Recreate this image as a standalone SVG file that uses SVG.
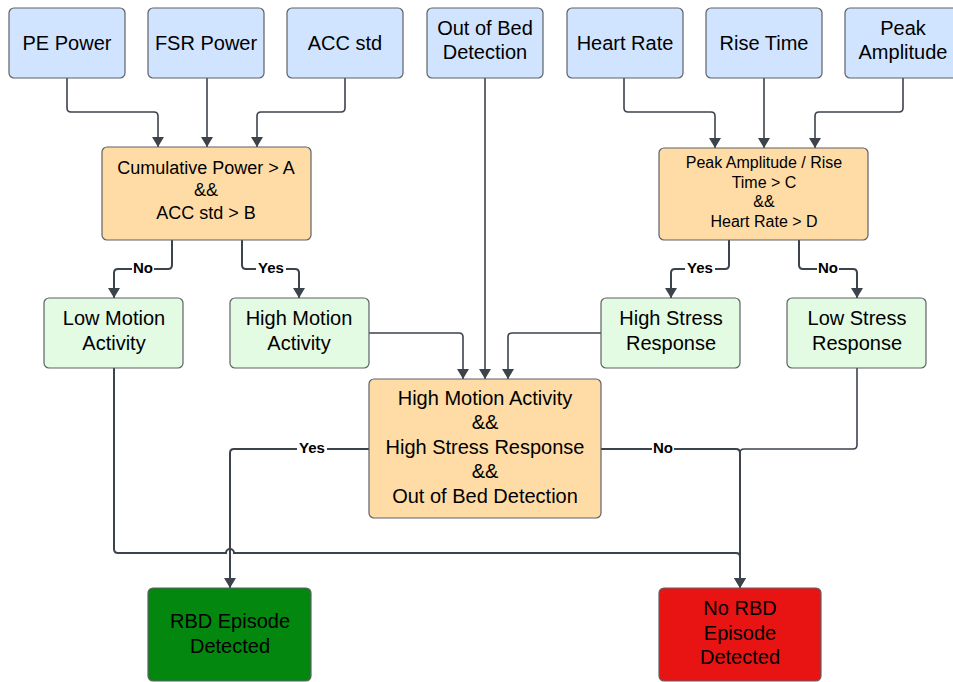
<svg xmlns="http://www.w3.org/2000/svg" width="953" height="682" viewBox="0 0 953 682">
<style>
.box{stroke:#5e6166;stroke-width:1.2}
.in{fill:#d0e4ff}
.dec{fill:#ffdca6}
.res{fill:#e3fae3}
text{font-family:"Liberation Sans",Arial,sans-serif;fill:#000;text-anchor:middle}
.t20{font-size:20px}
.t18{font-size:18px}
.t16{font-size:16px}
.c{fill:none;stroke:#3d434b;stroke-width:1.6}
.c2{fill:none;stroke:#3d434b;stroke-width:2}
.lbl{font-size:15px;font-weight:bold}
.lb{fill:#fff}
</style>
<defs>
<marker id="ah" viewBox="0 0 10 12" refX="10" refY="6" markerWidth="10" markerHeight="12" orient="auto" markerUnits="userSpaceOnUse">
<path d="M0,0 L10,6 L0,12 z" fill="#3d434b"/>
</marker>
</defs>
<rect width="953" height="682" fill="#fff"/>
<g id="connectors">
<path class="c" d="M67,78 V108 Q67,112 71,112 H154 Q158,112 158,116 V147" marker-end="url(#ah)"/>
<path class="c" d="M207,78 V147" marker-end="url(#ah)"/>
<path class="c" d="M345,78 V108 Q345,112 341,112 H261 Q257,112 257,116 V147" marker-end="url(#ah)"/>
<path class="c" d="M485,78 V379" marker-end="url(#ah)"/>
<path class="c" d="M624,78 V108 Q624,112 628,112 H711 Q715,112 715,116 V148" marker-end="url(#ah)"/>
<path class="c" d="M764,78 V148" marker-end="url(#ah)"/>
<path class="c" d="M903,78 V108 Q903,112 899,112 H819 Q815,112 815,116 V148" marker-end="url(#ah)"/>
<path class="c2" d="M172,240 V265 Q172,269 168,269 H118 Q114,269 114,273 V298" marker-end="url(#ah)"/>
<path class="c2" d="M242,240 V265 Q242,269 246,269 H295 Q299,269 299,273 V298" marker-end="url(#ah)"/>
<path class="c2" d="M729,240 V265 Q729,269 725,269 H675 Q671,269 671,273 V298" marker-end="url(#ah)"/>
<path class="c2" d="M799,240 V265 Q799,269 803,269 H853 Q857,269 857,273 V298" marker-end="url(#ah)"/>
<path class="c" d="M369,333 H459 Q463,333 463,337 V379" marker-end="url(#ah)"/>
<path class="c" d="M601,333 H512 Q508,333 508,337 V379" marker-end="url(#ah)"/>
<path class="c2" d="M369,449 H234 Q230,449 230,453 V588" marker-end="url(#ah)"/>
<path class="c2" d="M601,449 H736 Q740,449 740,453 V588" marker-end="url(#ah)"/>
<path class="c" d="M857,368 V445 Q857,449 853,449 H744 Q740,449 740,453"/>
<path class="c2" d="M114,368 V549 Q114,553 118,553 H226 A4,4 0 0 1 234,553 H736 Q740,553 740,557 V588" marker-end="url(#ah)"/>
<rect class="lb" x="132" y="260" width="22" height="16"/>
<text class="lbl" x="143" y="273">No</text>
<rect class="lb" x="256" y="260" width="30" height="16"/>
<text class="lbl" x="271" y="273">Yes</text>
<rect class="lb" x="685" y="260" width="30" height="16"/>
<text class="lbl" x="700" y="273">Yes</text>
<rect class="lb" x="817" y="260" width="22" height="16"/>
<text class="lbl" x="828" y="273">No</text>
<rect class="lb" x="297" y="440" width="30" height="16"/>
<text class="lbl" x="312" y="453">Yes</text>
<rect class="lb" x="652" y="440" width="22" height="16"/>
<text class="lbl" x="663" y="453">No</text>
</g>
<g id="pe-power"><rect class="box in" x="9" y="8" width="116" height="70" rx="5"/><text class="t20" x="67" y="50">PE Power</text></g>
<g id="fsr-power"><rect class="box in" x="148" y="8" width="116" height="70" rx="5"/><text class="t20" x="206" y="50">FSR Power</text></g>
<g id="acc-std"><rect class="box in" x="287" y="8" width="116" height="70" rx="5"/><text class="t20" x="345" y="50">ACC std</text></g>
<g id="out-of-bed"><rect class="box in" x="427" y="8" width="116" height="70" rx="5"/><text class="t20" x="485" y="35">Out of Bed</text><text class="t20" x="485" y="59">Detection</text></g>
<g id="heart-rate"><rect class="box in" x="567" y="8" width="116" height="70" rx="5"/><text class="t20" x="625" y="50">Heart Rate</text></g>
<g id="rise-time"><rect class="box in" x="706" y="8" width="116" height="70" rx="5"/><text class="t20" x="764" y="50">Rise Time</text></g>
<g id="peak-amplitude"><rect class="box in" x="845" y="8" width="116" height="70" rx="5"/><text class="t20" x="903" y="35">Peak</text><text class="t20" x="903" y="59">Amplitude</text></g>
<g id="motion-decision"><rect class="box dec" x="102" y="147" width="209" height="93" rx="5"/><text class="t18" x="206" y="174">Cumulative Power &gt; A</text><text class="t18" x="206" y="196">&amp;&amp;</text><text class="t18" x="206" y="219">ACC std &gt; B</text></g>
<g id="stress-decision"><rect class="box dec" x="659" y="148" width="209" height="92" rx="5"/><text class="t16" x="764" y="168">Peak Amplitude / Rise</text><text class="t16" x="764" y="188">Time &gt; C</text><text class="t16" x="764" y="207">&amp;&amp;</text><text class="t16" x="764" y="227">Heart Rate &gt; D</text></g>
<g id="low-motion"><rect class="box res" x="44" y="298" width="139" height="70" rx="5"/><text class="t20" x="114" y="325">Low Motion</text><text class="t20" x="114" y="350">Activity</text></g>
<g id="high-motion"><rect class="box res" x="230" y="298" width="139" height="70" rx="5"/><text class="t20" x="299" y="325">High Motion</text><text class="t20" x="299" y="350">Activity</text></g>
<g id="high-stress"><rect class="box res" x="601" y="298" width="139" height="70" rx="5"/><text class="t20" x="671" y="325">High Stress</text><text class="t20" x="671" y="350">Response</text></g>
<g id="low-stress"><rect class="box res" x="787" y="298" width="139" height="70" rx="5"/><text class="t20" x="857" y="325">Low Stress</text><text class="t20" x="857" y="350">Response</text></g>
<g id="final-decision"><rect class="box dec" x="369" y="379" width="232" height="139" rx="5"/><text class="t20" x="485" y="405">High Motion Activity</text><text class="t20" x="485" y="429">&amp;&amp;</text><text class="t20" x="485" y="454">High Stress Response</text><text class="t20" x="485" y="478">&amp;&amp;</text><text class="t20" x="485" y="503">Out of Bed Detection</text></g>
<g id="rbd-detected"><rect class="box" fill="#03870f" x="148" y="588" width="163" height="93" rx="5"/><text class="t20" x="230" y="628">RBD Episode</text><text class="t20" x="230" y="653">Detected</text></g>
<g id="no-rbd"><rect class="box" fill="#e81414" x="659" y="588" width="162" height="93" rx="5"/><text class="t20" x="740" y="615">No RBD</text><text class="t20" x="740" y="640">Episode</text><text class="t20" x="740" y="664">Detected</text></g>
</svg>
